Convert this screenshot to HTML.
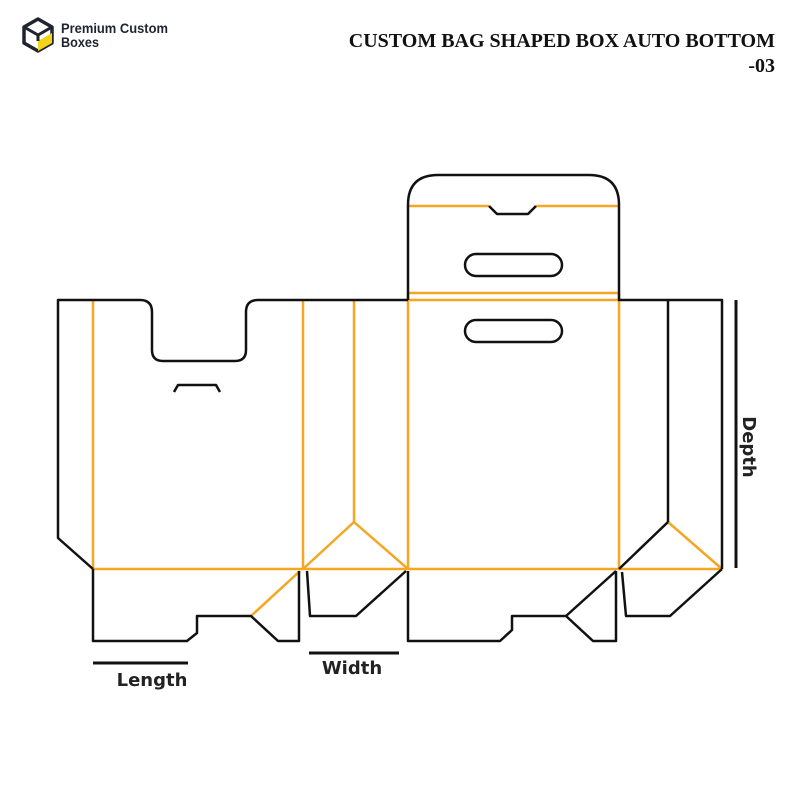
<!DOCTYPE html>
<html><head><style>
body{margin:0;background:#fff;width:800px;height:800px;overflow:hidden}
</style></head><body>
<svg width="800" height="800" xmlns="http://www.w3.org/2000/svg">
<g transform="translate(22,17)">
<path d="M16 2 L30 10 L30 26 L16 34 L2 26 L2 10 Z" fill="none" stroke="#1e2430" stroke-width="3.5" stroke-linejoin="round"/>
<path d="M16 24 L30 16 L30 26 L16 34 Z" fill="#f2d21b"/>
<path d="M2 10 L16 18 L30 10 M16 18 L16 24" fill="none" stroke="#1e2430" stroke-width="3"/>
</g>
<text x="61" y="33" font-family="Liberation Sans, sans-serif" font-weight="bold" font-size="14" fill="#1e2430" textLength="107" lengthAdjust="spacingAndGlyphs">Premium Custom</text>
<text x="61" y="47" font-family="Liberation Sans, sans-serif" font-weight="bold" font-size="14" fill="#1e2430" textLength="38" lengthAdjust="spacingAndGlyphs">Boxes</text>
<text x="775" y="47" text-anchor="end" font-family="Liberation Serif, serif" font-weight="bold" font-size="20" fill="#111">CUSTOM BAG SHAPED BOX AUTO BOTTOM</text>
<text x="775" y="72" text-anchor="end" font-family="Liberation Serif, serif" font-weight="bold" font-size="20" fill="#111">-03</text>

<g fill="none" stroke="#f5a623" stroke-width="2.5">
<line x1="93" y1="300" x2="93" y2="569"/>
<line x1="303" y1="300" x2="303" y2="569"/>
<line x1="354" y1="300" x2="354" y2="522"/>
<line x1="408" y1="293" x2="408" y2="569"/>
<line x1="619" y1="293" x2="619" y2="569"/>
<line x1="93" y1="569" x2="722" y2="569"/>
<polyline points="303,569 354,522 408,569"/>
<line x1="668" y1="522" x2="722" y2="569"/>
<line x1="251" y1="616" x2="300" y2="571"/>
<line x1="408" y1="293" x2="619" y2="293"/>
<line x1="408" y1="300" x2="619" y2="300"/>
<line x1="408" y1="206" x2="489" y2="206"/>
<line x1="536" y1="206" x2="619" y2="206"/>
</g>
<g fill="none" stroke="#111" stroke-width="2.5" stroke-linejoin="round">
<path d="M408 300 L258 300 Q246 300 246 312 L246 350 Q246 361 235 361 L163 361 Q152 361 152 350 L152 312 Q152 300 140 300 L58 300 L58 538 L93 569"/>
<polyline points="174,392 178,385 216,385 220,392"/>
<polyline points="93,569 93,641 187,641 197,633 197,616 251,616 278,641 299,641 299,571"/>
<polyline points="307,571 310,616 356,616 406,571"/>
<path d="M408 300 L408 205 Q408 175 438 175 L589 175 Q619 175 619 205 L619 300 L722 300 L722 569"/>
<polyline points="489,206 497,214 528,214 536,206"/>
<rect x="465" y="254" width="97" height="22" rx="11"/>
<rect x="465" y="320" width="97" height="22" rx="11"/>
<line x1="668" y1="300" x2="668" y2="522"/>
<line x1="619" y1="569" x2="668" y2="522"/>
<polyline points="722,569 670,616 626,616 622,572"/>
<polyline points="408,571 408,641 500,641 512,630 512,616 566,616 593,641 616,641 616,571"/>
<line x1="566" y1="616" x2="616" y2="571"/>
<line x1="736" y1="300" x2="736" y2="568" stroke-width="3"/>
<line x1="93" y1="663" x2="188" y2="663" stroke-width="3"/>
<line x1="309" y1="653" x2="399" y2="653" stroke-width="3"/>
</g>
<text x="152" y="686" text-anchor="middle" font-family="DejaVu Sans, sans-serif" font-weight="bold" font-size="18" fill="#222">Length</text>
<text x="352" y="674" text-anchor="middle" font-family="DejaVu Sans, sans-serif" font-weight="bold" font-size="18" fill="#222">Width</text>
<text transform="translate(743,447) rotate(90)" text-anchor="middle" font-family="DejaVu Sans, sans-serif" font-weight="bold" font-size="18" fill="#222">Depth</text>
</svg>
</body></html>
